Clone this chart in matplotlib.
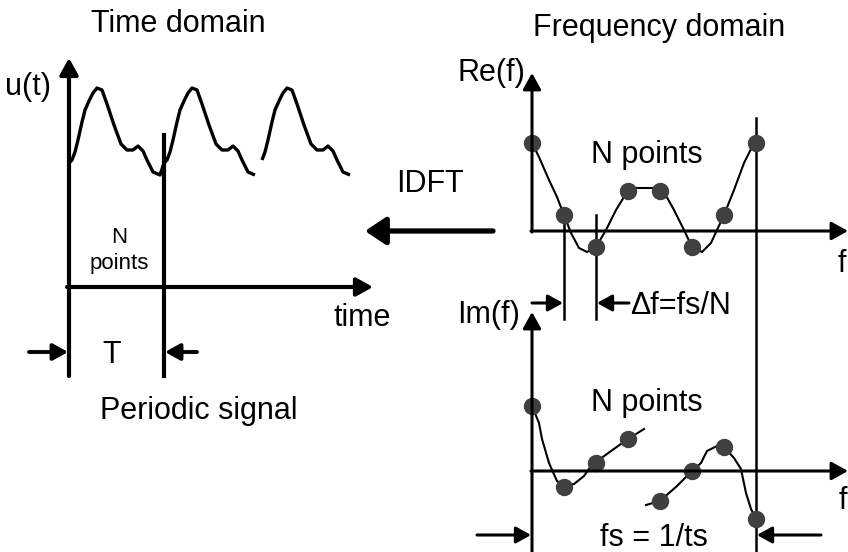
import numpy as np
import matplotlib
matplotlib.use('Agg')
import matplotlib.pyplot as plt

plt.rcParams['font.family'] = ['Liberation Sans', 'DejaVu Sans']

# one period of the time signal (offset in px from period start, y in px)
wave_dx = [0, 3, 6, 9, 13, 16, 20, 24, 28, 33, 38, 45, 52, 58, 64, 69, 74, 78, 84, 91, 95]
wave_y = [163, 160, 152, 140, 122, 110, 101, 93, 88, 90, 104, 125, 144, 150, 150, 146, 151, 160, 172, 175, 163]
period_starts = [69, 164, 259]

# frequency samples
f_pos = [532, 564, 596, 628, 660, 692, 724, 756]
re_vals = [143, 215, 247, 191, 191, 247, 215, 143]
im_vals = [406, 487, 463, 439, 501, 471, 447, 519]

# interpolating curves (px)
re_cx = [532, 539, 549, 557, 564, 571, 579, 587, 596, 606, 616, 624, 629, 637, 657, 664, 674, 684, 692, 702, 711, 717, 724, 734, 744, 752, 756]
re_cy = [143, 157, 180, 197, 215, 233, 248, 252, 247, 230, 210, 197, 191, 188, 188, 192, 210, 230, 247, 252, 243, 230, 215, 190, 163, 147, 142]
im1_x = [532, 539, 542, 549, 557, 564, 574, 584, 591, 596, 611, 628, 644]
im1_y = [406, 423, 439, 463, 481, 486, 484, 476, 466, 462, 451, 439, 429]
im2_x = [646, 660, 677, 692, 701, 707, 717, 724, 734, 741, 746, 751, 756]
im2_y = [505, 501, 486, 471, 463, 451, 446, 447, 458, 469, 493, 509, 519]

fig = plt.figure(figsize=(8.48, 5.52), dpi=100)
ax = fig.add_axes([0, 0, 1, 1])
ax.set_xlim(0, 848)
ax.set_ylim(552, 0)
ax.axis('off')


def arrow(x0, y0, x1, y1, lw=2.8, ms=22, hw=0.25):
    ax.annotate('', xy=(x1, y1), xytext=(x0, y0),
                arrowprops=dict(arrowstyle='-|>,head_length=0.45,head_width=%s' % hw,
                                lw=lw, color='black',
                                mutation_scale=ms, shrinkA=0, shrinkB=0))


fs = 22

# ---- time domain ----
for i, x0 in enumerate(period_starts):
    xs = np.array(wave_dx) + x0
    ys = np.array(wave_y)
    if i == 1:
        xs, ys = xs[:-1], ys[:-1]
    if i == 2:
        xs, ys = xs[1:-1], ys[1:-1]
    ax.plot(xs, ys, color='black', lw=2.4, solid_capstyle='butt',
            solid_joinstyle='round')

arrow(69, 376, 69, 58, lw=3.0, ms=22)
arrow(67, 287, 373, 287, lw=3.0, ms=22)
ax.plot([164, 164], [135, 376], color='black', lw=3.0)
arrow(29, 352, 68, 352, lw=2.8, ms=20)
arrow(197, 352, 165, 352, lw=2.8, ms=20)

ax.text(178, 32, 'Time domain', fontsize=fs, ha='center', va='baseline')
ax.text(28, 95, 'u(t)', fontsize=fs, ha='center', va='baseline')
ax.text(119, 243, 'N', fontsize=16, ha='center', va='baseline')
ax.text(119, 269, 'points', fontsize=16, ha='center', va='baseline')
ax.text(362, 326, 'time', fontsize=fs, ha='center', va='baseline')
ax.text(112, 363, 'T', fontsize=fs, ha='center', va='baseline')
ax.text(199, 419, 'Periodic signal', fontsize=fs, ha='center', va='baseline')

# ---- IDFT ----
ax.text(430, 192, 'IDFT', fontsize=fs, ha='center', va='baseline')
arrow(493, 231, 365, 231, lw=3.8, ms=28, hw=0.3)

# ---- frequency domain: real part ----
ax.text(659, 36, 'Frequency domain', fontsize=fs, ha='center', va='baseline')
arrow(532, 232, 532, 73, lw=2.2, ms=22)
arrow(531, 231, 848, 231, lw=2.2, ms=22)
ax.plot([564, 564], [213, 319], color='black', lw=1.8)
ax.plot([596, 596], [215, 319], color='black', lw=1.8)
ax.plot([756, 756], [118, 552], color='black', lw=1.8)
ax.plot(re_cx, re_cy, color='black', lw=1.5, solid_joinstyle='round')
ax.plot(f_pos, re_vals, 'o', color='#404040', ms=11.5)
ax.text(525, 81, 'Re(f)', fontsize=fs, ha='right', va='baseline')
ax.text(647, 163, 'N points', fontsize=fs, ha='center', va='baseline')
ax.text(842, 272, 'f', fontsize=fs, ha='center', va='baseline')

# ---- frequency domain: imaginary part ----
arrow(532, 552, 532, 312, lw=2.2, ms=22)
arrow(531, 471, 848, 471, lw=2.2, ms=22)
ax.plot(im1_x, im1_y, color='black', lw=1.5, solid_joinstyle='round')
ax.plot(im2_x, im2_y, color='black', lw=1.5, solid_joinstyle='round')
ax.plot(f_pos, im_vals, 'o', color='#404040', ms=11.5)
ax.text(520, 323, 'Im(f)', fontsize=fs, ha='right', va='baseline')
arrow(532, 303, 563, 303, lw=2.2, ms=20)
arrow(629, 303, 597, 303, lw=2.2, ms=20)
ax.text(630, 314, '\u0394f=fs/N', fontsize=fs, ha='left', va='baseline')
ax.text(647, 411, 'N points', fontsize=fs, ha='center', va='baseline')
ax.text(843, 509, 'f', fontsize=fs, ha='center', va='baseline')
arrow(477, 535, 531, 535, lw=2.2, ms=20)
arrow(821, 535, 757, 535, lw=2.2, ms=20)
ax.text(654, 546, 'fs = 1/ts', fontsize=fs, ha='center', va='baseline')

fig.savefig('out.png', dpi=100)
